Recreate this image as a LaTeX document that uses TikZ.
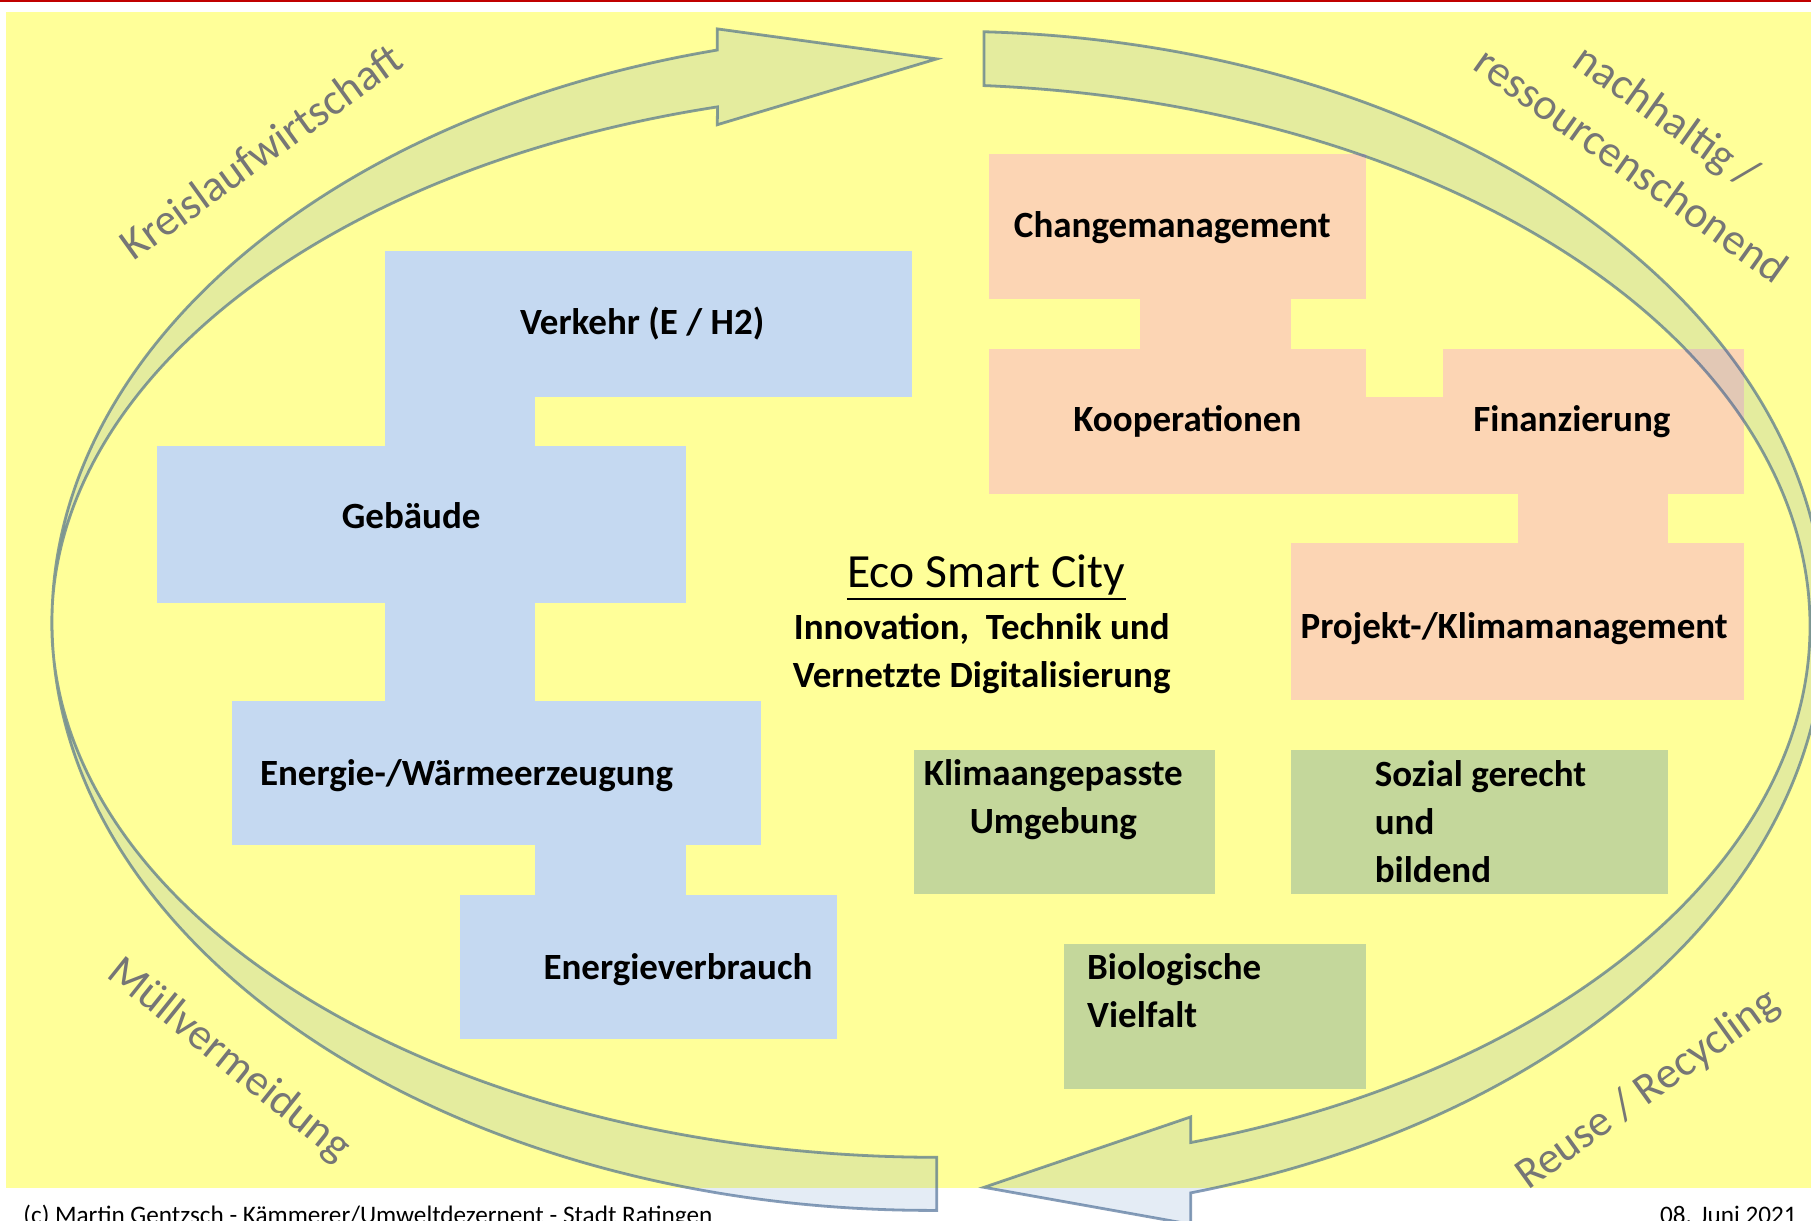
\documentclass[tikz,border=0pt]{standalone}
\usepackage{fontspec}
\setmainfont{Carlito}
\usetikzlibrary{calc,fit}
\definecolor{bgyellow}{RGB}{255,255,153}
\definecolor{topred}{RGB}{192,0,0}
\definecolor{boxblue}{RGB}{197,217,241}
\definecolor{boxorange}{RGB}{252,213,180}
\definecolor{boxgreen}{RGB}{196,215,155}
\definecolor{bandfill}{RGB}{79,129,189}
\definecolor{bandline}{RGB}{56,93,138}
\definecolor{labelgray}{RGB}{118,118,118}
\tikzset{
  box/.style={inner sep=0pt, outer sep=0pt, draw=none},
  bluebox/.style={box, fill=boxblue},
  orangebox/.style={box, fill=boxorange},
  greenbox/.style={box, fill=boxgreen},
  boxtext/.style={font=\bfseries\fontsize{18.5}{24}\selectfont, inner sep=0pt, anchor=base},
}
\begin{document}
\begin{tikzpicture}[x=0.5775pt, y=-0.5775pt,
  band/.style={fill=bandfill, fill opacity=0.15, draw=bandline, draw opacity=0.6, line width=1.4pt},
  arclabel/.style={text=labelgray, font=\fontsize{22.2}{30.6}\selectfont, inner sep=0pt},
  foot/.style={font=\fontsize{12.6}{15}\selectfont, inner sep=0pt, anchor=base}]
\useasboundingbox (0,0) rectangle (1568,1057);
\fill[white] (0,0) rectangle (1568,1057);
\fill[bgyellow] (5,10) rectangle (1568,1029);
\fill[topred] (0,0) rectangle (1568,2);

\fill[boxblue] (333,344) rectangle (463,386);
\fill[boxblue] (333,522) rectangle (463,607);
\fill[boxblue] (463,732) rectangle (594,775);
\node[bluebox, fit={(333,217) (790,344)}] (verkehr) {};
\node[bluebox, fit={(136,386) (594,522)}] (gebaeude) {};
\node[bluebox, fit={(201,607) (659,732)}] (erzeugung) {};
\node[bluebox, fit={(398,775) (725,900)}] (verbrauch) {};

\fill[boxorange] (987,259) rectangle (1118,302);
\fill[boxorange] (1183,344) rectangle (1249,428);
\fill[boxorange] (1314,428) rectangle (1444,470);
\node[orangebox, fit={(856,133) (1183,259)}] (change) {};
\node[orangebox, fit={(856,302) (1183,428)}] (koop) {};
\node[orangebox, fit={(1249,302) (1510,428)}] (finanz) {};
\node[orangebox, fit={(1118,470) (1510,606)}] (projekt) {};

\node[greenbox, fit={(791,649) (1052,774)}] (klima) {};
\node[greenbox, fit={(1118,649) (1444,774)}] (sozial) {};
\node[greenbox, fit={(921,817) (1183,943)}] (bio) {};

\node[boxtext] (verkehrtxt) at (556,290) {Verkehr (E / H2)};
\node[boxtext] (gebaeudetxt) at (356,458) {Gebäude};
\node[boxtext] (erzeugungtxt) at (404,680) {Energie-/Wärmeerzeugung};
\node[boxtext] (verbrauchtxt) at (587,848) {Energieverbrauch};
\node[boxtext] (changetxt) at (1015,206) {Changemanagement};
\node[boxtext] (kooptxt) at (1028,374) {Kooperationen};
\node[boxtext] (finanztxt) at (1361,374) {Finanzierung};
\node[boxtext] (projekttxt) at (1311,553) {Projekt-/Klimamanagement};
\node[boxtext, align=center] (klimatxt) at (912,722) {Klimaangepasste\\Umgebung};
\node[boxtext, align=left, anchor=base west] (sozialtxt) at (1190,764) {Sozial gerecht\\und\\bildend};
\node[boxtext, align=left, anchor=base west] (biotxt) at (941,890) {Biologische\\Vielfalt};

\node[inner sep=0pt, anchor=base, font=\fontsize{23.8}{28}\selectfont] (eco) at (854,509) {Eco Smart City};
\draw[line width=1pt] ([yshift=-5.8pt]eco.base west) -- ([yshift=-5.8pt]eco.base east);
\node[boxtext, align=center] (innov) at (850,595) {Innovation,\ \ Technik und\\Vernetzte Digitalisierung};

\coordinate (lo) at (806,538);
\coordinate (li) at (812,540);
\coordinate (ro) at (820,540);
\coordinate (ri) at (800,542);
\filldraw[band] ($(lo)+(89.62:761 and 510)$) arc[start angle=89.62, end angle=255.93, x radius=761, y radius=510]
  -- (621,25) -- (811,51) -- (621,108)
  -- ($(li)+(255.6:767 and 462)$) arc[start angle=255.6, end angle=90.07, x radius=767, y radius=462] -- cycle;
\filldraw[band] ($(ro)+(-87.59:760 and 513)$) arc[start angle=-87.59, end angle=73.88, x radius=760, y radius=513]
  -- (1031,1060) -- (852,1028) -- (1031,967)
  -- ($(ri)+(72.47:767 and 469)$) arc[start angle=72.47, end angle=-86.11, x radius=767, y radius=469] -- cycle;

\node[arclabel, rotate=35.8] (kreis) at (226,131) {Kreislaufwirtschaft};
\node[arclabel, rotate=-38.8] (muell) at (198,918) {Müllvermeidung};
\node[arclabel, rotate=-35.5, align=center] (nachhaltig) at (1428,121) {nachhaltig /\\ressourcenschonend};
\node[arclabel, rotate=35.7] (reuse) at (1427,944) {Reuse / Recycling};

\node[foot, anchor=base west] (autor) at (20,1059) {(c) Martin Gentzsch - Kämmerer/Umweltdezernent - Stadt Ratingen};
\node[foot, anchor=base east] (datum) at (1556,1059) {08. Juni 2021};
\end{tikzpicture}
\end{document}
